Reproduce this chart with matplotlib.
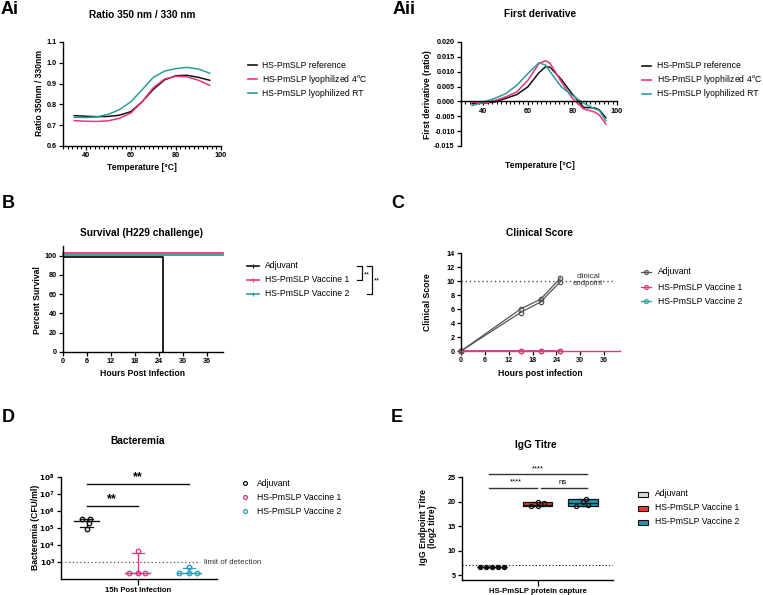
# NanoDSF and challenge study figure

import numpy as np
import matplotlib
matplotlib.use("Agg")
import matplotlib.pyplot as plt
from matplotlib.lines import Line2D
from matplotlib.patches import Rectangle
from matplotlib.ticker import MultipleLocator, FixedLocator, FormatStrFormatter, NullLocator

plt.rcParams['font.family'] = ['Liberation Sans', 'DejaVu Sans']
plt.rcParams['font.weight'] = 'bold'
plt.rcParams['mathtext.default'] = 'bf'

# Data
# Ai - ratio 350/330
temp = [35, 40, 45, 50, 55, 60, 65, 70, 75, 80, 85, 90, 95]
ratio_ref = [0.746, 0.743, 0.741, 0.742, 0.748, 0.765, 0.812, 0.872, 0.918, 0.938, 0.940, 0.930, 0.916]
ratio_4c = [0.722, 0.719, 0.718, 0.721, 0.733, 0.758, 0.812, 0.880, 0.922, 0.935, 0.933, 0.916, 0.892]
ratio_rt = [0.738, 0.737, 0.740, 0.752, 0.775, 0.812, 0.870, 0.930, 0.960, 0.972, 0.978, 0.970, 0.950]

# Aii - first derivative
temp_d = [35, 40, 45, 50, 55, 60, 65, 68, 70, 75, 80, 85, 90, 92, 95]
deriv_ref = [-0.0008, -0.0006, -0.0002, 0.0010, 0.0023, 0.0049, 0.0097, 0.0117, 0.0115, 0.0074, 0.0024, -0.0020, -0.0022, -0.0028, -0.0055]
deriv_4c = [-0.0002, -0.0006, 0.0003, 0.0015, 0.0032, 0.0071, 0.0128, 0.0137, 0.0128, 0.0066, 0.0010, -0.0025, -0.0036, -0.0045, -0.0076]
deriv_rt = [-0.0014, -0.0002, 0.0010, 0.0026, 0.0054, 0.0094, 0.0130, 0.0122, 0.0100, 0.0049, 0.0020, -0.0006, -0.0025, -0.0030, -0.0065]
a_labels = ["HS-PmSLP reference", "HS-PmSLP lyophilized 4$^{\\mathregular{o}}$C", "HS-PmSLP lyophilized RT"]

# B - survival
groups = ["Adjuvant", "HS-PmSLP Vaccine 1", "HS-PmSLP Vaccine 2"]
surv_hours_adj = [0, 25]
surv_adj = [100, 0]
surv_hours_vacc = [0, 40]
surv_vacc1 = [100, 100]
surv_vacc2 = [100, 100]

# C - clinical score
cs_hours = [0, 15, 20, 25]
cs_adj_a = [0, 5.5, 7.0, 9.9]
cs_adj_b = [0, 6.0, 7.4, 10.4]
cs_vacc1 = [0, 0, 0, 0]
cs_vacc2 = [0, 0, 0, 0]

# D - bacteremia (CFU/ml)
bact_adj = [3.4e5, 3.4e5, 2.0e5, 8.7e4]
bact_v1 = [2.2e2, 2.2e2, 2.2e2, 4.4e3]
bact_v2 = [2.2e2, 2.2e2, 2.2e2, 5.0e2]

# E - IgG titre
igg_adj = [6.6, 6.6, 6.6, 6.6, 6.6]
igg_v1 = [19.0, 19.0, 19.6, 20.0]
igg_v2 = [19.0, 19.2, 20.0, 20.6]

# Colours
black = "#111111"
pink = "#F2317E"
teal = "#2C9D98"
grey = "#555555"
pink_d = "#E0357F"
blue_d = "#2B9BBF"
red_e = "#E8392F"
blue_e = "#1A98B3"

W, H = 763, 595
fig = plt.figure(figsize=(W / 100, H / 100), dpi=100)


def fx(x):
    return x / W


def fy(y):
    return 1 - y / H


def add_ax(x0, y0, x1, y1):
    return fig.add_axes([x0 / W, 1 - y1 / H, (x1 - x0) / W, (y1 - y0) / H])


def ftext(x, y, s, **kw):
    kw.setdefault("ha", "center")
    kw.setdefault("va", "center")
    fig.text(fx(x), fy(y), s, **kw)


def style(ax):
    for s in ["top", "right"]:
        ax.spines[s].set_visible(False)
    for s in ["left", "bottom"]:
        ax.spines[s].set_linewidth(1.0)
    ax.tick_params(labelsize=5.2, length=3, width=0.9, pad=1.5)
    ax.tick_params(which="minor", length=2, width=0.8)


def fline(x0, x1, y, color, lw=1.2):
    fig.add_artist(Line2D([fx(x0), fx(x1)], [fy(y), fy(y)], transform=fig.transFigure, color=color, lw=lw))


def fmark(x, y, color, marker="o", ms=3.2, mfc="none"):
    fig.add_artist(Line2D([fx(x)], [fy(y)], transform=fig.transFigure, marker=marker, ms=ms,
                          mec=color, mfc=mfc, mew=0.9, ls="none"))


leg_fs = 6.2
title_fs = 7.3
lab_fs = 13

# ---------------- Ai ----------------
ax = add_ax(63, 42, 221, 146)
style(ax)
ax.plot(temp, ratio_ref, color=black, lw=1.1)
ax.plot(temp, ratio_4c, color=pink, lw=1.1)
ax.plot(temp, ratio_rt, color=teal, lw=1.1)
ax.set_xlim(30, 100)
ax.set_ylim(0.6, 1.1)
ax.xaxis.set_major_locator(FixedLocator([40, 60, 80, 100]))
ax.xaxis.set_minor_locator(MultipleLocator(2))
ax.yaxis.set_major_locator(MultipleLocator(0.1))
ax.yaxis.set_major_formatter(FormatStrFormatter("%.1f"))
ftext(142, 15, "Ratio 350 nm / 330 nm", fontsize=title_fs, weight="bold")
ftext(142, 168, "Temperature [°C]", fontsize=6.2, weight="bold")
ftext(40, 93, "Ratio 350nm / 330nm", fontsize=6.2, weight="bold", rotation=90)
ftext(1, 10, "Ai", fontsize=lab_fs, weight="bold", ha="left")
for y, c, lab in zip([65, 79, 93], [black, pink, teal], a_labels):
    fline(248, 257, y, c)
    ftext(262, y, lab, fontsize=leg_fs, weight="normal", ha="left")

# ---------------- Aii ----------------
ax = add_ax(461, 42, 617, 146)
style(ax)
ax.plot(temp_d, deriv_ref, color=black, lw=1.1)
ax.plot(temp_d, deriv_4c, color=pink, lw=1.1)
ax.plot(temp_d, deriv_rt, color=teal, lw=1.1)
ax.set_xlim(30, 100)
ax.set_ylim(-0.015, 0.020)
ax.spines["bottom"].set_position(("data", 0))
ax.xaxis.set_major_locator(FixedLocator([40, 60, 80, 100]))
ax.xaxis.set_minor_locator(MultipleLocator(2))
ax.yaxis.set_major_locator(MultipleLocator(0.005))
ax.yaxis.set_major_formatter(FormatStrFormatter("%.3f"))
ftext(540, 14, "First derivative", fontsize=title_fs, weight="bold")
ftext(540, 166, "Temperature [°C]", fontsize=6.2, weight="bold")
ftext(427, 95, "First derivative (ratio)", fontsize=6.2, weight="bold", rotation=90)
ftext(393, 10, "Aii", fontsize=lab_fs, weight="bold", ha="left")
for y, c, lab in zip([66, 80, 94], [black, pink, teal], a_labels):
    fline(642, 651, y, c)
    ftext(657, y, lab, fontsize=leg_fs, weight="normal", ha="left")

# ---------------- B ----------------
ax = add_ax(63, 246, 223, 352)
style(ax)
ax.plot(surv_hours_vacc, np.array(surv_vacc1) + 3, color=pink, lw=1.3, clip_on=False)
ax.plot(surv_hours_vacc, np.array(surv_vacc2) + 1, color=teal, lw=1.3, clip_on=False)
ax.step(surv_hours_adj, np.array(surv_adj) - 1, where="post", color=black, lw=1.3)
ax.set_xlim(0, 40)
ax.set_ylim(0, 110)
ax.xaxis.set_major_locator(FixedLocator([0, 6, 12, 18, 24, 30, 36]))
ax.yaxis.set_major_locator(FixedLocator([0, 20, 40, 60, 80, 100]))
ftext(142, 233, "Survival (H229 challenge)", fontsize=title_fs, weight="bold")
ftext(143, 374, "Hours Post Infection", fontsize=6.2, weight="bold")
ftext(37, 300, "Percent Survival", fontsize=6.2, weight="bold", rotation=90)
ftext(2, 204, "B", fontsize=lab_fs, weight="bold", ha="left")
for y, c, lab in zip([266, 280, 294], [black, pink, teal], groups):
    fline(247, 259, y, c)
    fmark(253, y, c, marker="|", ms=2.5)
    ftext(265, y, lab, fontsize=leg_fs, weight="normal", ha="left")
# significance brackets
for xb, y0, y1, ys in [(362, 266, 280, 275), (372, 266, 294, 281)]:
    fig.add_artist(Line2D([fx(xb - 5), fx(xb), fx(xb), fx(xb - 5)], [fy(y0), fy(y0), fy(y1), fy(y1)],
                          transform=fig.transFigure, color=black, lw=0.9))
    ftext(xb + 2, ys, "**", fontsize=5.5, weight="normal", ha="left")

# ---------------- C ----------------
ax = add_ax(461, 253, 620, 351)
style(ax)
ax.axhline(10, xmax=0.97, color=grey, lw=1.0, ls=(0, (1, 2)))
ax.plot(cs_hours, cs_vacc2, color=teal, lw=1.1, marker="o", ms=3.2, mfc="none", mew=0.9, clip_on=False)
ax.plot(cs_hours, cs_vacc1, color=pink, lw=1.1, marker="o", ms=3.2, mfc="none", mew=0.9, clip_on=False)
ax.plot(cs_hours, cs_adj_a, color=grey, lw=0.9, marker="o", ms=3.2, mfc="none", mew=0.9, clip_on=False)
ax.plot(cs_hours, cs_adj_b, color=grey, lw=0.9, marker="o", ms=3.2, mfc="none", mew=0.9, clip_on=False)
ax.spines["bottom"].set_color(pink)
ax.set_xlim(0, 40)
ax.set_ylim(0, 14)
ax.xaxis.set_major_locator(FixedLocator([0, 6, 12, 18, 24, 30, 36]))
ax.yaxis.set_major_locator(MultipleLocator(2))
ax.tick_params(axis="x", colors=black)
ax.text(32, 10.1, "clinical\nendpoint", fontsize=5.7, weight="normal", ha="center", va="center",
        linespacing=1.0, color="#333333")
ftext(540, 233, "Clinical Score", fontsize=title_fs, weight="bold")
ftext(540, 374, "Hours post infection", fontsize=6.2, weight="bold")
ftext(428, 302, "Clinical Score", fontsize=6.2, weight="bold", rotation=90)
ftext(391, 204, "C", fontsize=lab_fs, weight="bold", ha="left")
for y, c, lab in zip([272, 287, 301], [grey, pink, teal], groups):
    fline(641, 651, y, c, lw=0.9)
    fmark(646, y, c, ms=2.8)
    ftext(658, y, lab, fontsize=leg_fs, weight="normal", ha="left")

# ---------------- D ----------------
ax = add_ax(61, 477, 217, 579)
style(ax)
ax.set_yscale("log")
ax.set_ylim(1e2, 1e8)
ax.set_xlim(-1.5, 1.55)
ax.axhline(1e3, xmax=0.89, color=grey, lw=0.9, ls=(0, (1, 2)))
ax.text(1.3, 1e3, "limit of detection", fontsize=5.7, weight="normal", ha="left", va="center",
        color="#333333")
bact = [bact_adj, bact_v1, bact_v2]
jitter = [[-0.08, 0.06, 0.04, 0.0], [-0.17, 0.0, 0.15, 0.0], [-0.19, 0.0, 0.16, 0.0]]
for i, (vals, jit, c) in enumerate(zip(bact, jitter, [black, pink_d, blue_d])):
    xpos = i - 1
    med = np.median(vals)
    q1, q3 = np.percentile(vals, [25, 75], method="weibull")
    ax.plot([xpos - 0.24, xpos + 0.24], [med, med], color=c, lw=1.0)
    ax.plot([xpos, xpos], [q1, q3], color=c, lw=0.9)
    ax.plot([xpos - 0.12, xpos + 0.12], [q3, q3], color=c, lw=0.9)
    ax.plot([xpos - 0.12, xpos + 0.12], [q1, q1], color=c, lw=0.9)
    ax.plot(np.array(jit) + xpos, vals, ls="none", marker="o", ms=3.2, mfc="none", mec=c, mew=1.0,
            clip_on=False)
ax.xaxis.set_major_locator(FixedLocator([0]))
ax.set_xticklabels(["15h Post Infection"], fontsize=5.5)
ax.tick_params(axis="x", length=4, pad=1.5)
ax.yaxis.set_major_locator(FixedLocator([1e3, 1e4, 1e5, 1e6, 1e7, 1e8]))
ax.yaxis.set_minor_locator(NullLocator())
ax.set_yticklabels(["$10^{%d}$" % k for k in range(3, 9)])
ax.plot([-1, 0], [1.95e6, 1.95e6], color=black, lw=1.0, clip_on=False)
ax.plot([-1, 1], [3.9e7, 3.9e7], color=black, lw=1.0, clip_on=False)
ax.text(-0.5, 2.2e6, "**", fontsize=9, weight="bold", ha="center", va="bottom")
ax.text(0, 4.4e7, "**", fontsize=9, weight="bold", ha="center", va="bottom")
ftext(138, 441, "Bacteremia", fontsize=title_fs, weight="bold")
ftext(35, 527, "Bacteremia (CFU/ml)", fontsize=6.2, weight="bold", rotation=90)
ftext(2, 418, "D", fontsize=lab_fs, weight="bold", ha="left")
for y, c, lab in zip([483, 497, 511], [black, pink_d, blue_d], groups):
    fmark(245, y, c, ms=2.8)
    ftext(257, y, lab, fontsize=leg_fs, weight="normal", ha="left")

# ---------------- E ----------------
ax = add_ax(462, 477, 613, 580)
style(ax)
ax.set_xlim(-1.65, 1.65)
ax.set_ylim(4, 25)
ax.axhline(7, color=black, lw=0.8, ls=(0, (1, 2)))
igg = [igg_adj, igg_v1, igg_v2]
stats = []
for vals in igg:
    q1, med, q3 = np.percentile(vals, [25, 50, 75], method="weibull")
    stats.append(dict(med=med, q1=q1, q3=q3, whislo=min(vals), whishi=max(vals), fliers=[]))
bp = ax.bxp(stats, positions=[-1, 0, 1], widths=0.65, patch_artist=True, capwidths=0.25,
            boxprops=dict(lw=0.9, edgecolor=black), medianprops=dict(color=black, lw=0.9),
            whiskerprops=dict(color=black, lw=0.9), capprops=dict(color=black, lw=0.9),
            manage_ticks=False)
for patch, c in zip(bp["boxes"], ["#D9D9D9", red_e, blue_e]):
    patch.set_facecolor(c)
jitter_e = [[-0.26, -0.13, 0.0, 0.13, 0.26], [-0.15, 0.0, 0.15, 0.0], [-0.15, 0.1, 0.0, 0.05]]
for i, (vals, jit) in enumerate(zip(igg, jitter_e)):
    ax.plot(np.array(jit) + i - 1, vals, ls="none", marker="o", ms=3.0, mfc="none" if i else black,
            mec=black, mew=0.9, zorder=5)
ax.xaxis.set_major_locator(FixedLocator([0]))
ax.set_xticklabels(["HS-PmSLP protein capture"], fontsize=5.5)
ax.tick_params(axis="x", length=4, pad=2)
ax.yaxis.set_major_locator(MultipleLocator(5))
# significance bars
ax.plot([-1.07, 1.09], [25.6, 25.6], color="#333333", lw=1.0, clip_on=False)
ax.plot([-1.07, -0.02], [22.8, 22.8], color="#333333", lw=1.0, clip_on=False)
ax.plot([0.07, 1.09], [22.8, 22.8], color="#333333", lw=1.0, clip_on=False)
ax.text(0, 26.0, "****", fontsize=5.3, weight="normal", ha="center", va="bottom")
ax.text(-0.48, 23.2, "****", fontsize=5.3, weight="normal", ha="center", va="bottom")
ax.text(0.54, 23.2, "ns", fontsize=5.7, weight="normal", ha="center", va="bottom")
ftext(536, 445, "IgG Titre", fontsize=title_fs, weight="bold")
ftext(428, 527, "IgG Endpoint Titre\n(log2 titre)", fontsize=6.2, weight="bold", rotation=90,
      linespacing=1.05)
ftext(391, 418, "E", fontsize=lab_fs, weight="bold", ha="left")
for y, c, lab in zip([494, 508, 522], ["#D9D9D9", red_e, blue_e], groups):
    fig.add_artist(Rectangle((fx(638), fy(y + 2.5)), 10 / W, 5 / H, transform=fig.transFigure,
                             facecolor=c, edgecolor=black, lw=0.8))
    ftext(655, y, lab, fontsize=leg_fs, weight="normal", ha="left")

fig.savefig("out.png", dpi=100)
